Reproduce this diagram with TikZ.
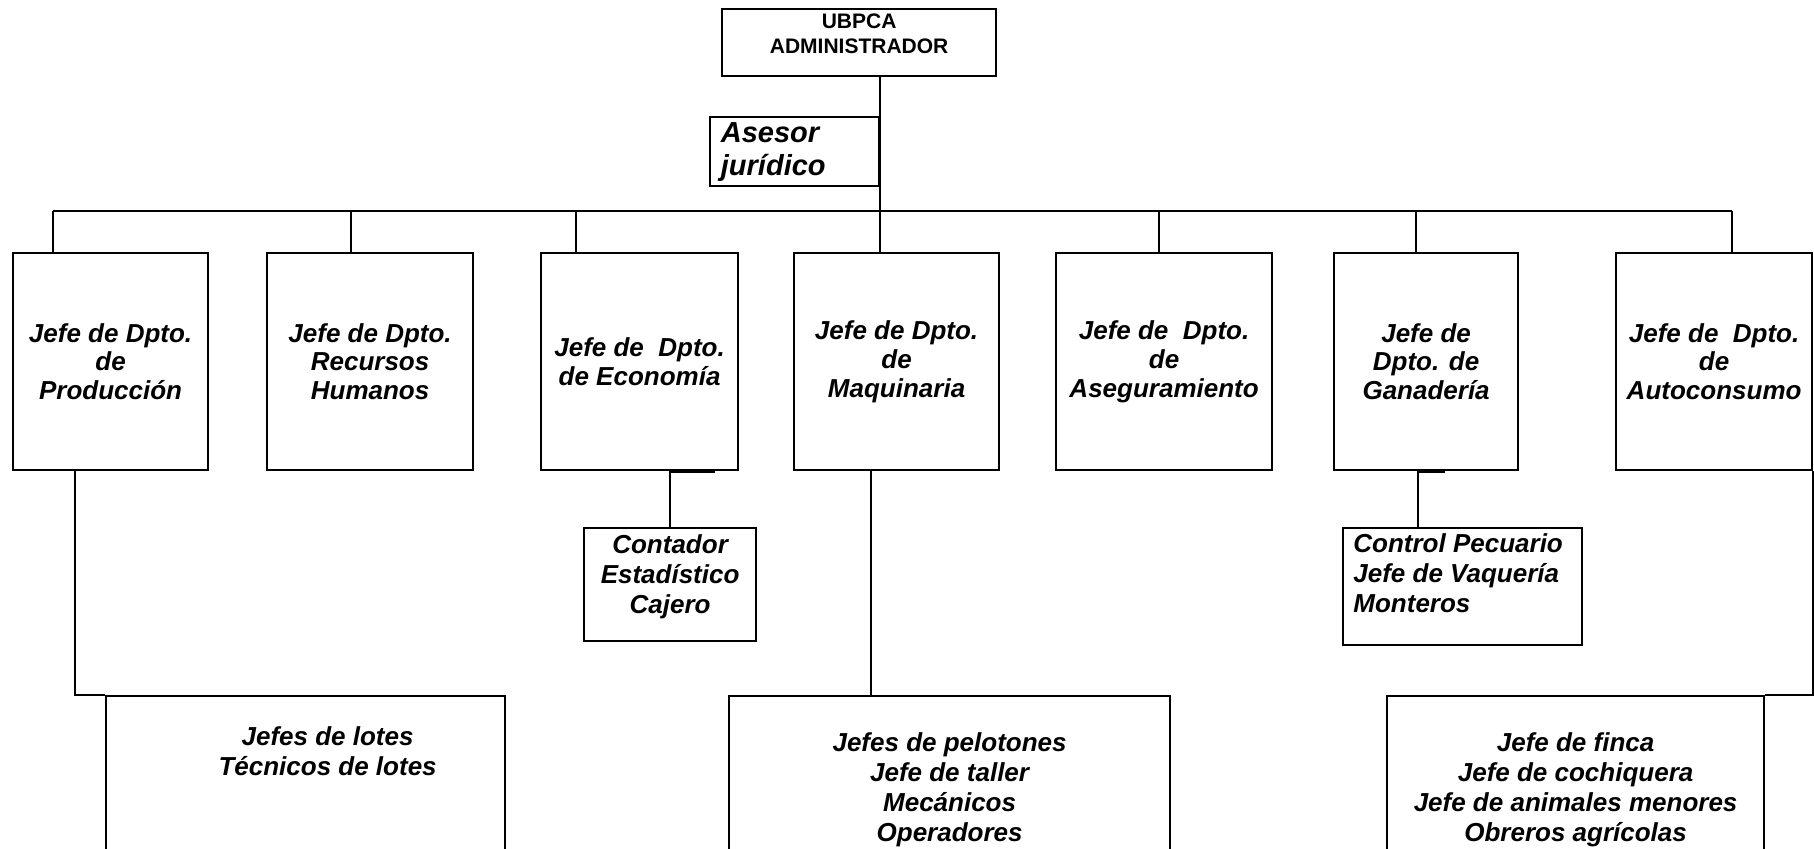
\documentclass[tikz,border=0pt]{standalone}
\usepackage{fontspec}
\setmainfont{Liberation Sans}
\usetikzlibrary{positioning,calc}

\tikzset{
  caja/.style={draw, line width=1.1pt, anchor=north west, inner sep=0pt},
  dpto/.style={caja, minimum height=108.5pt, align=center,
    font=\fontsize{13}{14.4}\selectfont\bfseries\itshape},
  txt/.style={inner sep=0pt, align=center,
    font=\fontsize{13}{15}\selectfont\bfseries\itshape},
  linea/.style={line width=1.1pt},
}

\begin{document}
\begin{tikzpicture}[x=0.5pt, y=-0.5pt]
    \clip (0,0) rectangle (1814,849);
    % direccion
    \node [caja, minimum width=137pt, minimum height=33.5pt] (admin) at (721,8) {};
    \node [txt, font=\fontsize{10.5}{12.5}\selectfont\bfseries, below=2.5pt of admin.north] (admin-t) {UBPCA\\ADMINISTRADOR};
    \node [caja, anchor=north east, minimum width=84.5pt, minimum height=34.5pt, inner xsep=5.5pt, text width=73.5pt, align=left,
           font=\fontsize{14.5}{16.5}\selectfont\bfseries\itshape] (asesor) at (880,116) {Asesor\\jurídico};
    % departamentos
    \foreach \n/\x/\w/\b/\t in {prod/12/195/53/{Jefe de Dpto.\\de\\Producción},
                               rrhh/266/206/351/{Jefe de Dpto.\\Recursos\\Humanos},
                               econ/540/197/576/{Jefe de\ \ Dpto.\\de Economía},
                               maq/793/205/880/{Jefe de Dpto.\\de\\Maquinaria},
                               aseg/1055/216/1159/{Jefe de\ \ Dpto.\\de\\Aseguramiento},
                               gan/1333/184/1416/{Jefe de\\Dpto. de\\Ganadería},
                               auto/1615/196/1732/{Jefe de\ \ Dpto.\\de\\Autoconsumo}} {
        \node [dpto, minimum width=0.5pt*\w] (\n) at (\x,252) {\t};
        \coordinate (bus-\n) at (\b,211);
        \draw [linea] (bus-\n) -- (bus-\n |- \n.north);
    }
    \draw [linea] (bus-prod) -- (bus-auto);
    \draw [linea] (admin.south -| bus-maq) -- (bus-maq);
    % cajas inferiores
    \node [caja, minimum width=86pt, minimum height=56.5pt] (conta) at (583,527) {};
    \node [txt, below=3.5pt of conta.north] (conta-t) {Contador\\Estadístico\\Cajero};
    \node [caja, minimum width=119.5pt, minimum height=58.5pt] (pecu) at (1342,527) {};
    \node [txt, align=left, below right=3pt and 5.5pt of pecu.north west] (pecu-t) {Control Pecuario\\Jefe de Vaquería\\Monteros};
    \node [caja, minimum width=199.5pt, minimum height=100pt] (lotes) at (105,695) {};
    \node [txt, below=15.5pt of lotes.north, xshift=11pt] (lotes-t) {Jefes de lotes\\Técnicos de lotes};
    \node [caja, minimum width=220.5pt, minimum height=100pt] (taller) at (728,695) {};
    \node [txt, below=18.5pt of taller.north] (taller-t) {Jefes de pelotones\\Jefe de taller\\Mecánicos\\Operadores};
    \node [caja, minimum width=188.5pt, minimum height=100pt] (finca) at (1386,695) {};
    \node [txt, below=18.5pt of finca.north] (finca-t) {Jefe de finca\\Jefe de cochiquera\\Jefe de animales menores\\Obreros agrícolas};
    % conexiones
    \draw [linea] (econ.south -| conta.north) -- (conta.north);
    \draw [linea] ($(econ.south -| conta.north)+(0,1)$) -- ++(45,0);
    \coordinate (gn) at ($(gan.south)+(-8,0)$);
    \draw [linea] (gn) -- (gn |- pecu.north);
    \draw [linea] ($(gn)+(0,1)$) -- ++(27,0);
    \draw [linea] ($(prod.south west)+(63,0)$) |- (lotes.north west);
    \coordinate (mq) at ($(maq.south west)+(78,0)$);
    \draw [linea] (mq) -- (mq |- taller.north);
    \draw [linea] (auto.south east) |- (finca.north east);
\end{tikzpicture}
\end{document}
